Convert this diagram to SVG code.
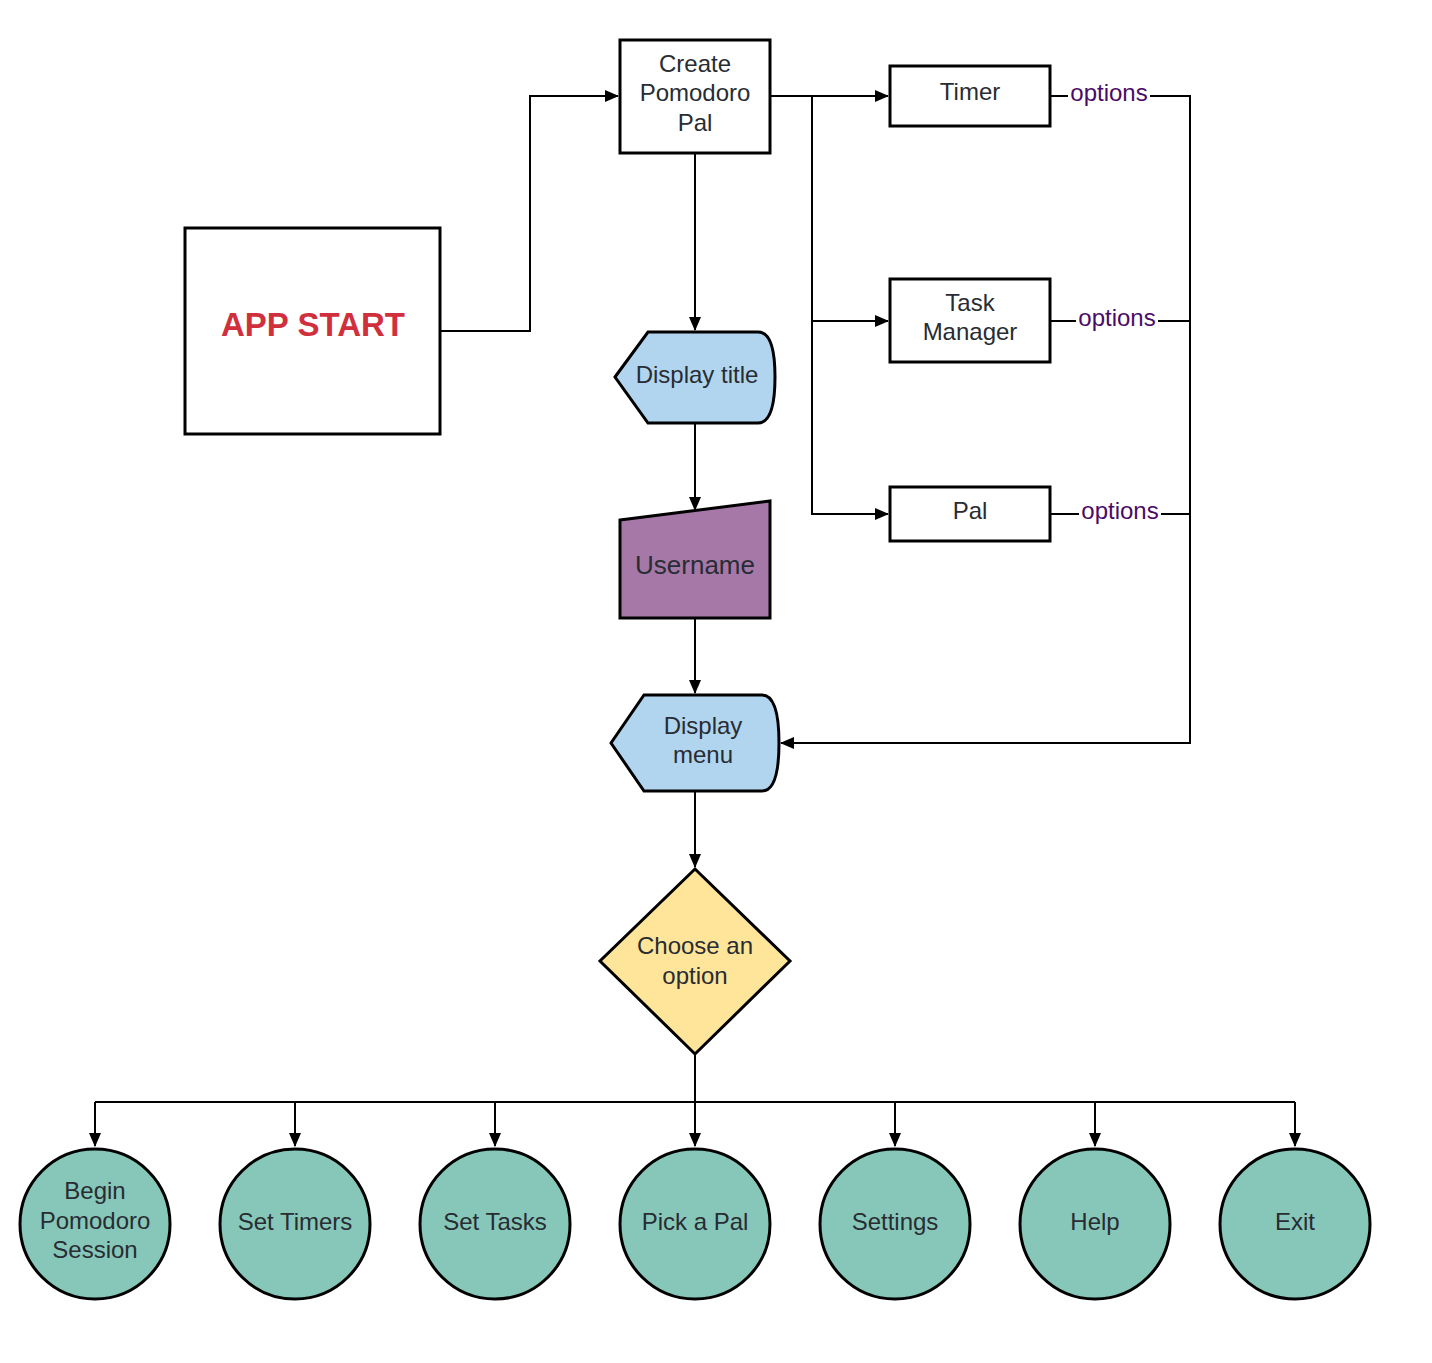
<svg xmlns="http://www.w3.org/2000/svg" width="1432" height="1363" viewBox="0 0 1432 1363">
<style>
.box{fill:#fff;stroke:#000;stroke-width:3}
.t{font-family:"Liberation Sans",Arial,sans-serif;font-size:24px;fill:#282c33;text-anchor:middle}
.opt{font-family:"Liberation Sans",Arial,sans-serif;font-size:24px;fill:#4b0a66;text-anchor:middle}
.c{fill:none;stroke:#000;stroke-width:2}
.circ{fill:#87c7b9;stroke:#000;stroke-width:3}
</style>
<defs>
<marker id="ah" markerWidth="14" markerHeight="12" refX="13" refY="6" orient="auto" markerUnits="userSpaceOnUse">
<path d="M0,0 L14,6 L0,12 Z" fill="#000"/>
</marker>
</defs>
<rect width="1432" height="1363" fill="#fff"/>
<g id="connectors">
<path class="c" d="M440,331 H530 V96 H618" marker-end="url(#ah)"/>
<path class="c" d="M695,153 V330" marker-end="url(#ah)"/>
<path class="c" d="M770,96 H888" marker-end="url(#ah)"/>
<path class="c" d="M812,96 V321 H888" marker-end="url(#ah)"/>
<path class="c" d="M812,321 V514 H888" marker-end="url(#ah)"/>
<path class="c" d="M1050,96 H1190 V743 H781" marker-end="url(#ah)"/>
<path class="c" d="M1050,321 H1190"/>
<path class="c" d="M1050,514 H1190"/>
<path class="c" d="M695,423 V510" marker-end="url(#ah)"/>
<path class="c" d="M695,618 V693" marker-end="url(#ah)"/>
<path class="c" d="M695,791 V867" marker-end="url(#ah)"/>
<path class="c" d="M695,1054 V1102"/>
<path class="c" d="M95,1102 H1295"/>
<path class="c" d="M95,1102 V1146" marker-end="url(#ah)"/>
<path class="c" d="M295,1102 V1146" marker-end="url(#ah)"/>
<path class="c" d="M495,1102 V1146" marker-end="url(#ah)"/>
<path class="c" d="M695,1102 V1146" marker-end="url(#ah)"/>
<path class="c" d="M895,1102 V1146" marker-end="url(#ah)"/>
<path class="c" d="M1095,1102 V1146" marker-end="url(#ah)"/>
<path class="c" d="M1295,1102 V1146" marker-end="url(#ah)"/>
<rect x="1068" y="80" width="82" height="26" fill="#fff"/>
<text class="opt" x="1109" y="101">options</text>
<rect x="1076" y="305" width="82" height="26" fill="#fff"/>
<text class="opt" x="1117" y="326">options</text>
<rect x="1079" y="498" width="82" height="26" fill="#fff"/>
<text class="opt" x="1120" y="519">options</text>
</g>
<g id="app-start">
<rect class="box" x="185" y="228" width="255" height="206"/>
<text x="313" y="336" style="font-family:'Liberation Sans',Arial,sans-serif;font-size:33px;font-weight:bold;fill:#d0303c;text-anchor:middle">APP START</text>
</g>
<g id="create">
<rect class="box" x="620" y="40" width="150" height="113"/>
<text class="t" x="695" y="72">Create</text>
<text class="t" x="695" y="101">Pomodoro</text>
<text class="t" x="695" y="131">Pal</text>
</g>
<g id="timer">
<rect class="box" x="890" y="66" width="160" height="60"/>
<text class="t" x="970" y="100">Timer</text>
</g>
<g id="task-manager">
<rect class="box" x="890" y="279" width="160" height="83"/>
<text class="t" x="970" y="311">Task</text>
<text class="t" x="970" y="340">Manager</text>
</g>
<g id="pal">
<rect class="box" x="890" y="487" width="160" height="54"/>
<text class="t" x="970" y="519">Pal</text>
</g>
<g id="display-title">
<path d="M615,377 L648,332 H758 Q775,332 775,377 Q775,423 758,423 H648 Z" fill="#b1d5ef" stroke="#000" stroke-width="3"/>
<text class="t" x="697" y="383">Display title</text>
</g>
<g id="username">
<path d="M620,520 L770,501 V618 H620 Z" fill="#a678a8" stroke="#000" stroke-width="3"/>
<text class="t" x="695" y="574" style="font-size:26px">Username</text>
</g>
<g id="display-menu">
<path d="M611,743 L644,695 H762 Q779,695 779,743 Q779,791 762,791 H644 Z" fill="#b1d5ef" stroke="#000" stroke-width="3"/>
<text class="t" x="703" y="734">Display</text>
<text class="t" x="703" y="763">menu</text>
</g>
<g id="choose">
<path d="M695,869 L790,961 L695,1054 L600,961 Z" fill="#ffe599" stroke="#000" stroke-width="3"/>
<text class="t" x="695" y="954">Choose an</text>
<text class="t" x="695" y="984">option</text>
</g>
<g id="begin">
<circle class="circ" cx="95" cy="1224" r="75"/>
<text class="t" x="95" y="1199">Begin</text>
<text class="t" x="95" y="1229">Pomodoro</text>
<text class="t" x="95" y="1258">Session</text>
</g>
<g id="set-timers">
<circle class="circ" cx="295" cy="1224" r="75"/>
<text class="t" x="295" y="1230">Set Timers</text>
</g>
<g id="set-tasks">
<circle class="circ" cx="495" cy="1224" r="75"/>
<text class="t" x="495" y="1230">Set Tasks</text>
</g>
<g id="pick-pal">
<circle class="circ" cx="695" cy="1224" r="75"/>
<text class="t" x="695" y="1230">Pick a Pal</text>
</g>
<g id="settings">
<circle class="circ" cx="895" cy="1224" r="75"/>
<text class="t" x="895" y="1230">Settings</text>
</g>
<g id="help">
<circle class="circ" cx="1095" cy="1224" r="75"/>
<text class="t" x="1095" y="1230">Help</text>
</g>
<g id="exit">
<circle class="circ" cx="1295" cy="1224" r="75"/>
<text class="t" x="1295" y="1230">Exit</text>
</g>
</svg>
